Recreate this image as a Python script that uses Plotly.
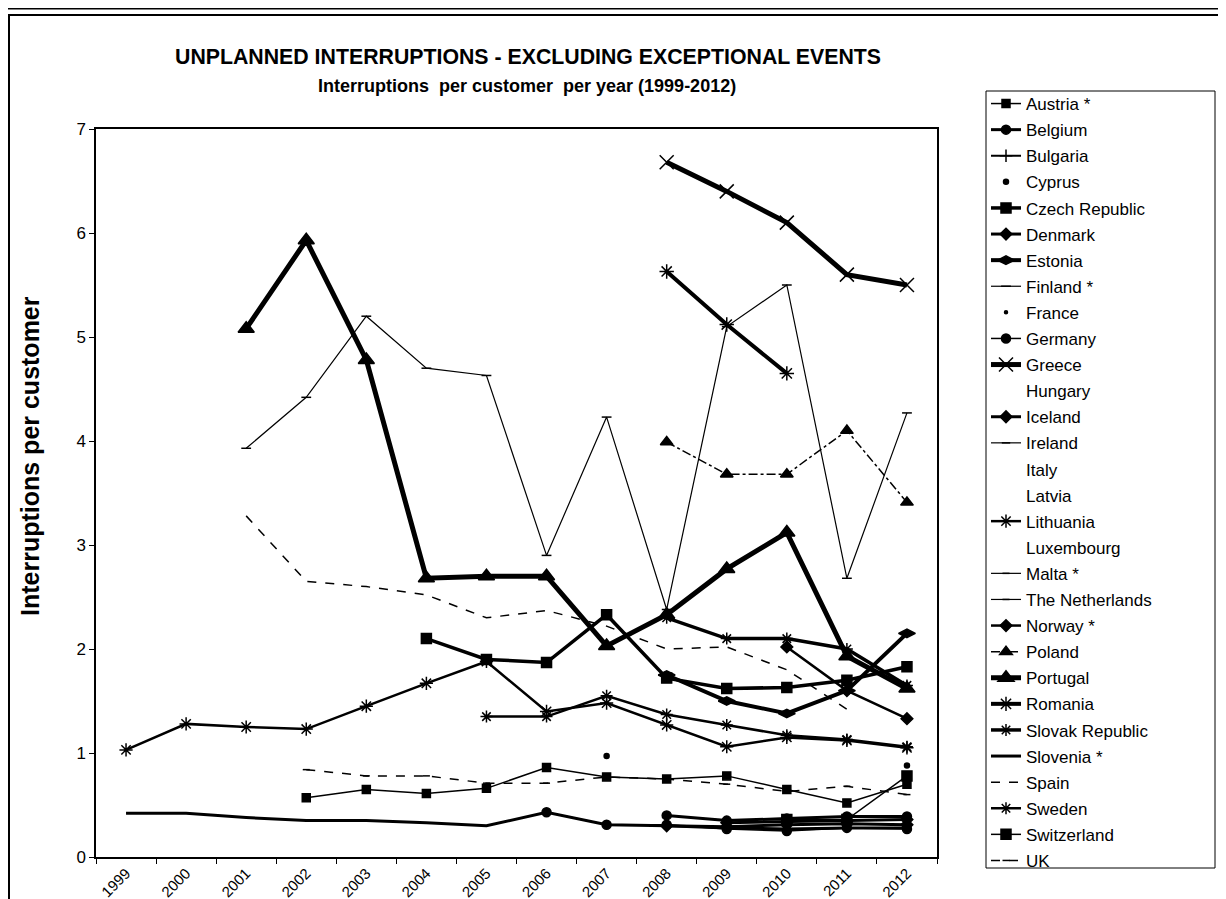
import plotly.graph_objects as go

N = None
years = [str(y) for y in range(1999, 2013)]

austria = [N, N, N, 0.57, 0.65, 0.61, 0.66, 0.86, 0.77, 0.75, 0.78, 0.65, 0.52, 0.70]
belgium = [N, N, N, N, N, N, N, N, N, 0.40, 0.35, 0.37, 0.39, 0.39]
bulgaria = [N] * 14
cyprus = [N, N, N, N, N, N, N, N, 0.97, N, N, N, N, 0.88]
czech = [N, N, N, N, N, 2.10, 1.90, 1.87, 2.33, 1.72, 1.62, 1.63, 1.70, 1.83]
denmark = [N, N, N, N, N, N, N, N, N, N, 0.33, 0.34, 0.35, 0.36]
estonia = [N, N, N, N, N, N, N, N, N, 1.75, 1.50, 1.38, 1.60, 2.15]
finland = [N, N, 3.93, 4.42, 5.20, 4.70, 4.63, 2.90, 4.23, 2.38, 5.10, 5.50, 2.68, 4.27]
france = [N] * 14
germany = [N, N, N, N, N, N, N, 0.43, 0.31, 0.31, 0.27, 0.25, 0.28, 0.27]
greece = [N, N, N, N, N, N, N, N, N, 6.68, 6.40, 6.10, 5.60, 5.50]
hungary = [N] * 14
iceland = [N, N, N, N, N, N, N, N, N, 0.30, 0.29, 0.31, 0.32, 0.31]
ireland = [N] * 14
italy = [N] * 14
latvia = [N] * 14
lithuania = [1.03, 1.28, 1.25, 1.23, 1.45, 1.67, 1.88, 1.40, 1.48, 1.27, 1.06, 1.15, 1.12, 1.05]
luxembourg = [N] * 14
malta = [N] * 14
netherlands = [N] * 14
norway = [N, N, N, N, N, N, N, N, N, N, N, 2.02, 1.60, 1.33]
poland = [N, N, N, N, N, N, N, N, N, 3.99, 3.68, 3.68, 4.10, 3.41]
portugal = [N, N, 5.08, 5.93, 4.78, 2.68, 2.70, 2.70, 2.03, 2.33, 2.77, 3.12, 1.93, 1.62]
romania = [N, N, N, N, N, N, N, N, N, 5.63, 5.12, 4.65, N, N]
slovakia = [N, N, N, N, N, N, N, N, N, 2.30, 2.10, 2.10, 2.00, 1.65]
slovenia = [0.42, 0.42, 0.38, 0.35, 0.35, 0.33, 0.30, 0.43, 0.31, 0.30, 0.28, 0.27, 0.28, 0.28]
spain = [N, N, 3.28, 2.65, 2.60, 2.52, 2.30, 2.37, 2.22, 2.00, 2.02, 1.80, 1.42, N]
sweden = [N, N, N, N, N, N, 1.35, 1.35, 1.55, 1.37, 1.27, 1.17, 1.13, 1.06]
switzerland = [N, N, N, N, N, N, N, N, N, N, N, 0.36, 0.36, 0.78]
uk = [N, N, N, 0.84, 0.78, 0.78, 0.71, 0.71, 0.77, 0.75, 0.70, 0.63, 0.68, 0.60]

# (name, values, line width, dash, marker symbol, marker size)
series = [
    ("Austria *", austria, 1.5, "solid", "square", 8),
    ("Belgium", belgium, 3, "solid", "circle", 9),
    ("Bulgaria", bulgaria, 2, "solid", "cross-thin", 9),
    ("Cyprus", cyprus, 0, "solid", "circle", 5),
    ("Czech Republic", czech, 3.5, "solid", "square", 10),
    ("Denmark", denmark, 3, "solid", "diamond", 9),
    ("Estonia", estonia, 4, "solid", "diamond-wide", 12),
    ("Finland *", finland, 1.2, "solid", "line-ew", 7),
    ("France", france, 0, "solid", "circle", 3),
    ("Germany", germany, 1.5, "solid", "circle", 9),
    ("Greece", greece, 5, "solid", "x-thin", 14),
    ("Hungary", hungary, None, "solid", None, 0),
    ("Iceland", iceland, 3, "solid", "diamond", 9),
    ("Ireland", ireland, 1.2, "solid", "line-ew", 6),
    ("Italy", italy, None, "solid", None, 0),
    ("Latvia", latvia, None, "solid", None, 0),
    ("Lithuania", lithuania, 2.5, "solid", "asterisk", 11),
    ("Luxembourg", luxembourg, None, "solid", None, 0),
    ("Malta *", malta, 1.2, "solid", "line-ew", 5),
    ("The Netherlands", netherlands, 1.2, "solid", "line-ew", 5),
    ("Norway *", norway, 2.5, "solid", "diamond", 9),
    ("Poland", poland, 1.5, "dashdot", "triangle-up", 11),
    ("Portugal", portugal, 5, "solid", "triangle-up", 14),
    ("Romania", romania, 4, "solid", "asterisk", 12),
    ("Slovak Republic", slovakia, 3.5, "solid", "asterisk", 10),
    ("Slovenia *", slovenia, 3, "solid", None, 0),
    ("Spain", spain, 1.5, "dash", None, 0),
    ("Sweden", sweden, 2.5, "solid", "asterisk", 10),
    ("Switzerland", switzerland, 1.5, "solid", "square", 10),
    ("UK", uk, 1.5, "dash", "line-ew", 5),
]

fig = go.Figure()
for name, vals, lw, dash, sym, ms in series:
    if lw is None:
        # listed in the legend but nothing drawn
        fig.add_trace(go.Scatter(x=years, y=vals, name=name, mode="lines",
                                 line=dict(color="rgba(0,0,0,0)", width=1),
                                 legendgroup=name))
        continue
    mode = "lines"
    if sym:
        mode = "lines+markers" if lw > 0 else "markers"
    fig.add_trace(go.Scatter(
        x=years, y=vals, name=name, mode=mode, legendgroup=name,
        line=dict(color="black", width=lw, dash=dash),
        marker=dict(symbol=sym or "circle", size=ms, color="black",
                    line=dict(color="black", width=1.5)),
        connectgaps=False,
    ))

# pixel -> paper helpers (plot area 88..929 x 121..849)
X0, X1, Y0, Y1 = 88, 929, 121, 849
def px(x):
    return (x - X0) / (X1 - X0)
def py(y):
    return (Y1 - y) / (Y1 - Y0)

arial = "Liberation Sans, Arial, sans-serif"

fig.update_layout(
    width=1226, height=899,
    margin=dict(l=X0, r=1226 - X1, t=Y0, b=899 - Y1, autoexpand=False),
    paper_bgcolor="white", plot_bgcolor="white",
    showlegend=True,
    legend=dict(x=px(978), y=py(78), xanchor="left", yanchor="top",
                borderwidth=0, bgcolor="rgba(0,0,0,0)",
                font=dict(family=arial, size=17, color="black"),
                tracegroupgap=1, itemwidth=30, maxheight=880),
    xaxis=dict(type="category", categoryorder="array", categoryarray=years,
               showgrid=False, showline=True, linecolor="black", linewidth=1.5,
               mirror=True, ticks="outside", tickson="boundaries", ticklen=5,
               tickcolor="black", tickangle=-45,
               tickfont=dict(family=arial, size=15, color="black"),
               range=[-0.5, 13.5]),
    yaxis=dict(range=[0, 7], dtick=1, showgrid=False, showline=True,
               linecolor="black", linewidth=1.5, mirror=True, ticks="outside",
               ticklen=5, tickcolor="black", zeroline=False,
               tickfont=dict(family=arial, size=17, color="black")),
    annotations=[
        dict(text="<b>UNPLANNED INTERRUPTIONS - EXCLUDING EXCEPTIONAL EVENTS</b>",
             x=px(520), y=py(49), xref="paper", yref="paper", showarrow=False,
             xanchor="center", yanchor="middle",
             font=dict(family=arial, size=21.3, color="black")),
        dict(text="<b>Interruptions  per customer  per year (1999-2012)</b>",
             x=px(519), y=py(78), xref="paper", yref="paper", showarrow=False,
             xanchor="center", yanchor="middle",
             font=dict(family=arial, size=18, color="black")),
        dict(text="<b>Interruptions per customer</b>", textangle=-90,
             x=px(22), y=py(448), xref="paper", yref="paper", showarrow=False,
             xanchor="center", yanchor="middle",
             font=dict(family=arial, size=25, color="black")),
    ],
    shapes=[
        dict(type="line", xref="paper", yref="paper", x0=px(0), x1=px(1226),
             y0=py(0.5), y1=py(0.5), line=dict(color="black", width=2)),
        dict(type="rect", xref="paper", yref="paper", x0=px(1), x1=px(1216),
             y0=py(7), y1=py(910), line=dict(color="black", width=2)),
        # legend box
        dict(type="rect", xref="paper", yref="paper", x0=px(978), x1=px(1207),
             y0=py(83), y1=py(860), line=dict(color="black", width=1)),
    ],
)

fig.write_html("out.html")
